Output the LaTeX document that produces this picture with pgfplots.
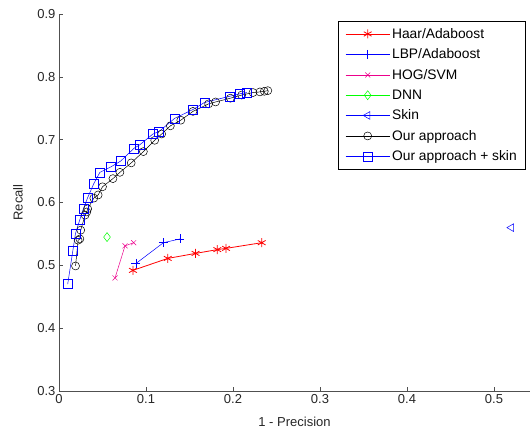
\documentclass[border=0pt]{standalone}
\usepackage{pgfplots}
\pgfplotsset{compat=1.18}
\usepackage{fontspec}
\setmainfont{Liberation Sans}
\definecolor{axgray}{RGB}{80,80,80}
\definecolor{mblue}{RGB}{0,0,255}
\definecolor{mgreen}{RGB}{0,255,0}
\begin{document}
\begin{tikzpicture}[x=1pt,y=1pt]
\path[use as bounding box] (-59,-42) rectangle (471,391);
\begin{axis}[
  at={(0,0)}, anchor=south west,
  scale only axis, width=471pt, height=377pt,
  xmin=0, xmax=0.5414, ymin=0.3, ymax=0.9,
  axis x line=bottom, axis y line=left,
  axis line style={-, axgray, line width=0.8pt},
  tick align=inside, major tick length=4pt,
  tick style={axgray, line width=0.6pt},
  xtick={0,0.1,0.2,0.3,0.4,0.5},
  ytick={0.3,0.4,0.5,0.6,0.7,0.8,0.9},
  /pgf/number format/assume math mode=true,
  /pgf/number format/fixed,
  ticklabel style={font=\fontsize{13}{15}\selectfont, text=black!85},
  xlabel={1 - Precision}, ylabel={Recall},
  label style={font=\fontsize{13}{15}\selectfont, text=black!85},
  xlabel style={at={(axis description cs:0.5,-0.0822)}, anchor=center},
  ylabel style={at={(axis description cs:-0.087,0.5)}, anchor=center, rotate=0},
  clip=false,
  legend cell align=left,
  legend style={at={(axis cs:0.3207,0.889)}, anchor=north west,
    draw=black, line width=0.6pt, fill=white,
    font=\fontsize{13.8}{16}\selectfont,
    row sep=5pt, inner xsep=7pt, inner ysep=5pt,
    /tikz/every even column/.append style={column sep=2pt}},
  legend image code/.code={\draw[mark repeat=2,mark phase=2,#1] plot coordinates {(0pt,0pt) (22pt,0pt) (44pt,0pt)};},
]
\addplot[red, line width=0.8pt, mark=asterisk, mark size=4.5pt] coordinates {
(0.085,0.492) (0.125,0.511) (0.157,0.519) (0.182,0.525) (0.192,0.527) (0.233,0.536)};
\addlegendentry{Haar/Adaboost}
\addplot[mblue, line width=0.5pt, mark=+, mark size=4.5pt] coordinates {
(0.0885,0.503) (0.120,0.536) (0.139,0.542)};
\addlegendentry{LBP/Adaboost}
\addplot[magenta, line width=0.5pt, mark=x, mark size=3.5pt] coordinates {
(0.0644,0.480) (0.0759,0.531) (0.0858,0.536)};
\addlegendentry{HOG/SVM}
\addplot[mgreen, line width=0.5pt, mark=diamond, mark size=4.5pt] coordinates {
(0.0552,0.545)};
\addlegendentry{DNN}
\addplot[mblue, line width=0.5pt, mark=triangle, mark options={rotate=90}, mark size=4.5pt] coordinates {
(0.520,0.560)};
\addlegendentry{Skin}
\addplot[black, line width=0.5pt, mark=o, mark size=4pt] coordinates {
(0.019,0.499) (0.022,0.540) (0.024,0.542) (0.025,0.556) (0.030,0.580)
(0.032,0.585) (0.033,0.590) (0.040,0.607) (0.045,0.612) (0.050,0.625)
(0.062,0.638) (0.070,0.648) (0.083,0.663) (0.097,0.681) (0.110,0.699)
(0.118,0.709) (0.128,0.722) (0.140,0.731) (0.154,0.745) (0.172,0.757)
(0.180,0.760) (0.197,0.766) (0.210,0.771) (0.223,0.775) (0.231,0.776)
(0.236,0.777) (0.240,0.778)};
\addlegendentry{Our approach}
\addplot[mblue, line width=0.5pt, mark=square, mark size=4.5pt] coordinates {
(0.010,0.470) (0.016,0.524) (0.019,0.551) (0.024,0.573) (0.028,0.590)
(0.033,0.608) (0.040,0.630) (0.047,0.648) (0.060,0.657) (0.071,0.666)
(0.086,0.686) (0.093,0.692) (0.108,0.709) (0.115,0.713) (0.133,0.734)
(0.154,0.748) (0.167,0.759) (0.196,0.769) (0.208,0.773) (0.216,0.775)};
\addlegendentry{Our approach + skin}
\end{axis}
\end{tikzpicture}
\end{document}
